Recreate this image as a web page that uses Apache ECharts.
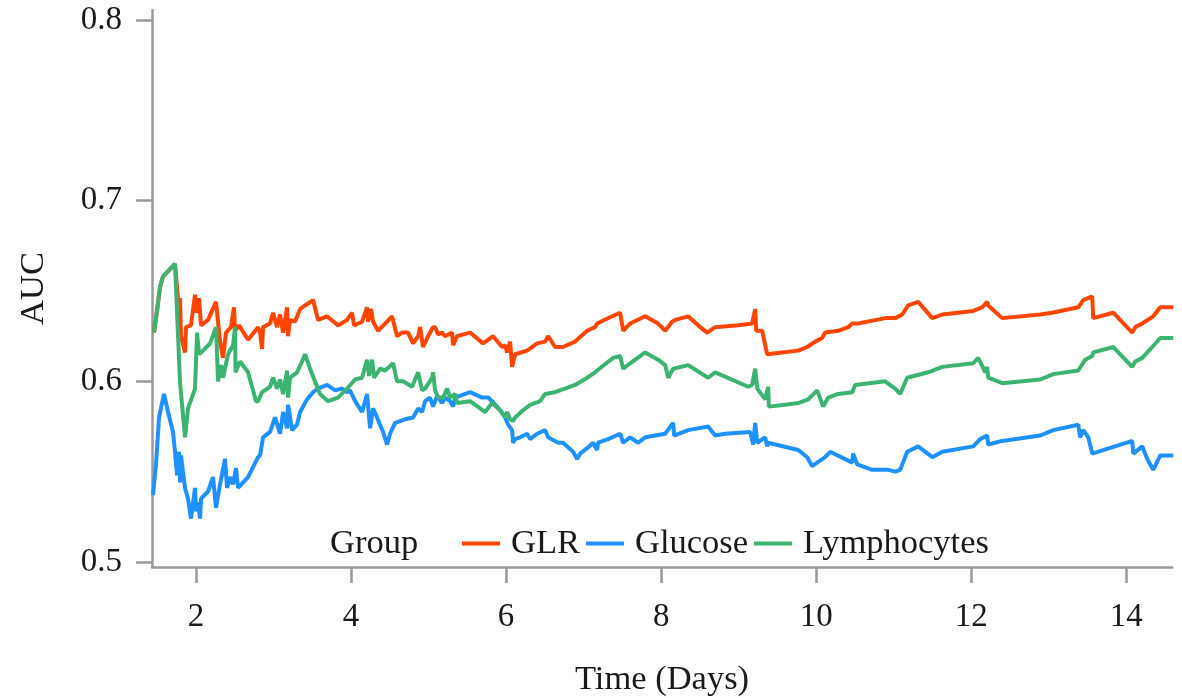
<!DOCTYPE html>
<html>
<head>
<meta charset="utf-8">
<script src="https://cdn.jsdelivr.net/npm/echarts@6/dist/echarts.min.js"></script>
<style>
  html, body { margin: 0; padding: 0; background: #fff; }
  #main { width: 1182px; height: 698px; }
</style>
</head>
<body>
<div id="main"></div>
<script>
// series names, legend order
var groups = ['GLR', 'Glucose', 'Lymphocytes'];
var colors = ['#FF4500', '#1E90FF', '#3CB371'];

// tick labels
var xTicks = [2, 4, 6, 8, 10, 12, 14];
var yTicks = [0.5, 0.6, 0.7, 0.8];

// [time (days), AUC]
var glr = [
	[1.458,0.627],[1.484,0.635],[1.535,0.652],[1.574,0.658],[1.639,0.661],[1.729,0.665],[1.768,0.645],[1.794,0.646],[1.806,0.625],[1.858,0.616],
	[1.871,0.630],[1.935,0.631],[1.987,0.648],[2.013,0.638],[2.039,0.646],[2.065,0.631],[2.155,0.634],[2.258,0.644],[2.310,0.622],[2.348,0.613],
	[2.387,0.627],[2.452,0.630],[2.490,0.641],[2.503,0.628],[2.555,0.631],[2.671,0.623],[2.800,0.630],[2.826,0.627],[2.852,0.618],[2.865,0.630],
	[2.955,0.632],[2.994,0.638],[3.045,0.630],[3.084,0.637],[3.123,0.627],[3.174,0.641],[3.187,0.625],[3.213,0.634],[3.277,0.633],[3.342,0.640],
	[3.406,0.642],[3.510,0.645],[3.574,0.634],[3.690,0.636],[3.832,0.631],[3.948,0.634],[4.013,0.638],[4.039,0.631],[4.142,0.633],[4.206,0.641],
	[4.219,0.633],[4.258,0.640],[4.284,0.633],[4.348,0.628],[4.439,0.632],[4.529,0.636],[4.593,0.625],[4.658,0.627],[4.735,0.627],[4.800,0.621],
	[4.865,0.625],[4.890,0.630],[4.929,0.619],[4.994,0.625],[5.058,0.630],[5.084,0.630],[5.123,0.626],[5.174,0.627],[5.213,0.625],[5.303,0.627],
	[5.316,0.620],[5.368,0.625],[5.535,0.627],[5.703,0.621],[5.832,0.625],[5.948,0.619],[5.987,0.620],[6.013,0.616],[6.052,0.622],[6.077,0.608],
	[6.116,0.615],[6.271,0.617],[6.400,0.621],[6.503,0.622],[6.542,0.625],[6.632,0.619],[6.735,0.619],[6.890,0.622],[7.045,0.628],[7.148,0.630],
	[7.174,0.632],[7.368,0.636],[7.471,0.638],[7.510,0.628],[7.600,0.632],[7.794,0.636],[7.961,0.632],[8.052,0.628],[8.142,0.633],[8.181,0.634],
	[8.348,0.636],[8.477,0.631],[8.594,0.627],[8.697,0.630],[8.994,0.631],[9.174,0.632],[9.213,0.640],[9.226,0.628],[9.303,0.628],[9.368,0.615],
	[9.561,0.616],[9.768,0.617],[9.884,0.619],[9.987,0.622],[10.077,0.624],[10.116,0.627],[10.284,0.628],[10.413,0.630],[10.465,0.632],[10.542,0.632],
	[10.890,0.635],[11.019,0.635],[11.110,0.637],[11.187,0.642],[11.316,0.644],[11.497,0.635],[11.626,0.637],[12.026,0.639],[12.142,0.641],[12.206,0.644],
	[12.219,0.642],[12.400,0.635],[12.890,0.637],[13.045,0.638],[13.381,0.641],[13.445,0.645],[13.561,0.647],[13.574,0.635],[13.832,0.638],[14.077,0.627],
	[14.116,0.630],[14.206,0.632],[14.348,0.636],[14.439,0.641],[14.606,0.641]
];

var glucose = [
	[1.445,0.537],[1.484,0.554],[1.523,0.580],[1.587,0.593],[1.639,0.583],[1.703,0.572],[1.729,0.561],[1.755,0.548],[1.781,0.561],[1.794,0.544],
	[1.806,0.559],[1.858,0.541],[1.897,0.535],[1.935,0.524],[1.987,0.541],[2.000,0.528],[2.026,0.533],[2.052,0.524],[2.065,0.535],[2.155,0.539],
	[2.219,0.547],[2.258,0.530],[2.310,0.543],[2.374,0.557],[2.400,0.541],[2.439,0.547],[2.477,0.543],[2.516,0.552],[2.542,0.541],[2.671,0.547],
	[2.800,0.558],[2.826,0.559],[2.865,0.569],[2.955,0.572],[3.019,0.580],[3.084,0.571],[3.123,0.583],[3.174,0.574],[3.187,0.587],[3.239,0.573],
	[3.303,0.576],[3.342,0.583],[3.432,0.590],[3.510,0.594],[3.574,0.596],[3.690,0.598],[3.794,0.595],[3.884,0.596],[3.948,0.594],[3.987,0.595],
	[4.052,0.589],[4.142,0.583],[4.206,0.593],[4.245,0.574],[4.284,0.585],[4.335,0.580],[4.413,0.572],[4.465,0.565],[4.503,0.571],[4.568,0.577],
	[4.697,0.579],[4.800,0.580],[4.865,0.585],[4.916,0.583],[4.955,0.589],[5.019,0.591],[5.058,0.586],[5.110,0.592],[5.174,0.588],[5.213,0.591],
	[5.277,0.589],[5.316,0.586],[5.342,0.591],[5.535,0.594],[5.690,0.591],[5.768,0.591],[5.819,0.589],[5.923,0.584],[5.987,0.580],[6.026,0.576],
	[6.077,0.573],[6.090,0.566],[6.116,0.568],[6.181,0.569],[6.271,0.571],[6.310,0.568],[6.400,0.571],[6.503,0.573],[6.542,0.569],[6.671,0.566],
	[6.735,0.566],[6.864,0.561],[6.916,0.557],[6.955,0.560],[7.045,0.563],[7.123,0.566],[7.174,0.562],[7.187,0.566],[7.316,0.568],[7.471,0.571],
	[7.510,0.566],[7.600,0.569],[7.703,0.566],[7.794,0.569],[8.052,0.571],[8.155,0.577],[8.168,0.570],[8.348,0.573],[8.606,0.575],[8.697,0.570],
	[8.826,0.571],[9.148,0.572],[9.187,0.565],[9.213,0.577],[9.239,0.566],[9.342,0.569],[9.368,0.564],[9.381,0.566],[9.768,0.562],[9.884,0.558],
	[9.948,0.553],[10.013,0.555],[10.116,0.558],[10.181,0.561],[10.465,0.555],[10.477,0.560],[10.529,0.554],[10.723,0.551],[10.929,0.551],[11.019,0.550],
	[11.084,0.551],[11.174,0.561],[11.316,0.564],[11.497,0.558],[11.626,0.561],[12.026,0.564],[12.116,0.568],[12.206,0.570],[12.219,0.565],[12.400,0.567],
	[12.890,0.570],[13.058,0.573],[13.381,0.576],[13.406,0.569],[13.445,0.573],[13.510,0.569],[13.561,0.560],[14.077,0.567],[14.090,0.560],[14.206,0.564],
	[14.271,0.557],[14.348,0.551],[14.439,0.559],[14.606,0.559]
];

var lymphocytes = [
	[1.458,0.627],[1.484,0.635],[1.535,0.652],[1.574,0.658],[1.639,0.661],[1.729,0.665],[1.794,0.599],[1.858,0.569],[1.897,0.585],[1.987,0.596],
	[2.013,0.627],[2.039,0.615],[2.090,0.617],[2.181,0.621],[2.258,0.630],[2.284,0.600],[2.323,0.609],[2.348,0.602],[2.413,0.615],[2.477,0.620],
	[2.503,0.630],[2.510,0.605],[2.568,0.611],[2.671,0.605],[2.774,0.589],[2.800,0.589],[2.852,0.594],[2.955,0.597],[2.994,0.602],[3.045,0.596],
	[3.084,0.601],[3.123,0.593],[3.174,0.606],[3.187,0.591],[3.213,0.602],[3.303,0.605],[3.368,0.611],[3.406,0.615],[3.471,0.607],[3.561,0.597],
	[3.600,0.593],[3.703,0.589],[3.832,0.591],[3.948,0.596],[4.052,0.601],[4.142,0.602],[4.206,0.612],[4.232,0.603],[4.271,0.612],[4.297,0.602],
	[4.374,0.607],[4.439,0.606],[4.542,0.610],[4.593,0.600],[4.671,0.600],[4.787,0.597],[4.865,0.605],[4.916,0.595],[4.955,0.596],[5.045,0.602],
	[5.058,0.605],[5.084,0.595],[5.123,0.591],[5.187,0.591],[5.239,0.596],[5.277,0.591],[5.342,0.593],[5.368,0.588],[5.535,0.589],[5.665,0.585],
	[5.729,0.583],[5.819,0.588],[5.923,0.584],[5.987,0.580],[6.013,0.583],[6.052,0.579],[6.077,0.580],[6.090,0.578],[6.116,0.580],[6.219,0.584],
	[6.310,0.587],[6.439,0.589],[6.503,0.593],[6.632,0.594],[6.890,0.598],[7.045,0.602],[7.148,0.605],[7.174,0.606],[7.381,0.613],[7.471,0.614],
	[7.510,0.607],[7.600,0.610],[7.794,0.616],[7.961,0.612],[8.052,0.609],[8.090,0.602],[8.155,0.607],[8.348,0.609],[8.606,0.602],[8.697,0.605],
	[9.123,0.597],[9.174,0.598],[9.213,0.607],[9.239,0.596],[9.342,0.590],[9.381,0.597],[9.390,0.586],[9.600,0.587],[9.768,0.588],[9.897,0.590],
	[10.013,0.595],[10.090,0.586],[10.155,0.591],[10.284,0.593],[10.465,0.594],[10.503,0.598],[10.890,0.600],[11.019,0.596],[11.084,0.593],[11.174,0.602],
	[11.445,0.605],[11.626,0.608],[12.026,0.610],[12.090,0.613],[12.181,0.605],[12.206,0.608],[12.219,0.602],[12.400,0.599],[12.890,0.601],[13.058,0.604],
	[13.381,0.606],[13.471,0.612],[13.561,0.614],[13.574,0.616],[13.832,0.619],[14.077,0.608],[14.116,0.611],[14.206,0.613],[14.335,0.619],[14.439,0.624],
	[14.606,0.624]
];

var seriesData = [glr, glucose, lymphocytes];

var font = '"Liberation Serif", "Times New Roman", serif';
var axisGrey = '#999999';

var myChart = echarts.init(document.getElementById('main'));

var series = [];
for (var i = 0; i < groups.length; i++) {
	series.push({
		name: groups[i],
		type: 'line',
		data: seriesData[i],
		showSymbol: false,
		symbol: 'none',
		color: colors[i],
		lineStyle: { width: 4, color: colors[i] },
		z: 2 + i
	});
}

var option = {
	animation: false,
	backgroundColor: '#fff',
	// fixed plot box, do not let labels shrink it
	grid: { left: 152, right: 10, top: 10, bottom: 131, outerBoundsMode: 'none', containLabel: false },
	xAxis: {
		type: 'value',
		min: 1.432,
		max: 14.59,
		name: 'Time (Days)',
		nameLocation: 'middle',
		nameGap: 95,
		nameTextStyle: { fontFamily: font, fontSize: 34.5, color: '#1a1a1a' },
		axisLine: { show: true, lineStyle: { color: axisGrey, width: 2.5 } },
		axisTick: { show: true, length: 16, customValues: xTicks, lineStyle: { color: axisGrey, width: 2.5 } },
		axisLabel: { customValues: xTicks, margin: 34, fontFamily: font, fontSize: 33, color: '#1a1a1a' },
		splitLine: { show: false }
	},
	yAxis: {
		type: 'value',
		min: 0.4972,
		max: 0.8056,
		name: 'AUC',
		nameLocation: 'middle',
		nameGap: 101,
		nameTextStyle: { fontFamily: font, fontSize: 34.5, color: '#1a1a1a' },
		axisLine: { show: true, lineStyle: { color: axisGrey, width: 2.5 } },
		axisTick: { show: true, length: 16, customValues: yTicks, lineStyle: { color: axisGrey, width: 2.5 } },
		axisLabel: { customValues: yTicks, margin: 30, fontFamily: font, fontSize: 33, color: '#1a1a1a',
			formatter: function(v) { return v.toFixed(1); } },
		splitLine: { show: false }
	},
	legend: {
		data: groups,
		left: 462,
		top: 526,
		icon: 'rect',
		itemWidth: 38,
		itemHeight: 4,
		itemGap: 6,
		padding: 0,
		textStyle: { fontFamily: font, fontSize: 34.5, color: '#1a1a1a', padding: [0, 0, 0, 6] }
	},
	graphic: [{
		type: 'text',
		left: 330,
		top: 526,
		style: { text: 'Group', font: '34.5px ' + font, fill: '#1a1a1a' }
	}],
	series: series
};

myChart.setOption(option);
</script>
</body>
</html>
